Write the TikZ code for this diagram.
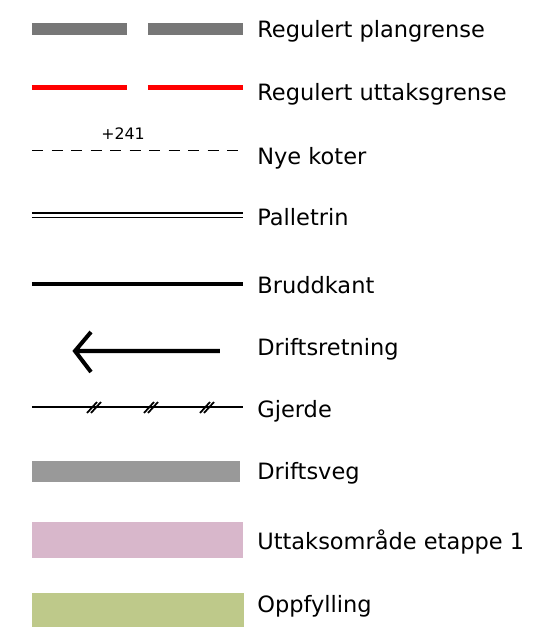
\documentclass[tikz,border=0pt]{standalone}
\usepackage{fontspec}
\setmainfont{DejaVu Sans}
\definecolor{plangra}{HTML}{777777}
\definecolor{veggra}{HTML}{999999}
\definecolor{uttakrosa}{HTML}{D8B7CB}
\definecolor{fyllgronn}{HTML}{BEC98A}
\tikzset{tekst/.style={anchor=west,inner sep=0pt,font=\fontsize{12.8}{15}\selectfont}}

\begin{document}
\begin{tikzpicture}[x=0.02cm,y=-0.02cm]
\useasboundingbox (0,0) rectangle (540,627);
% plangrense
\draw[plangra,line width=6.6pt] (32,29)--(127,29) (148,29)--(243,29);
\node[tekst] (plan) at (257,31) {Regulert plangrense};
% uttaksgrense
\draw[red,line width=2.8pt] (32,87.5)--(127,87.5) (148,87.5)--(243,87.5);
\node[tekst] (uttak) at (257,94) {Regulert uttaksgrense};
% koter
\draw[line width=0.6pt,dash pattern=on 6.5pt off 4.6pt] (32,150.5)--(243,150.5);
\node[font=\fontsize{9}{11}\selectfont,inner sep=0pt] (kote) at (123,134) {+241};
\node[tekst] (koter) at (257,158) {Nye koter};
% palletrin
\draw[line width=0.8pt] (32,213)--(243,213) (32,217.5)--(243,217.5);
\node[tekst] (pall) at (257,217) {Palletrin};
% bruddkant
\draw[line width=2.8pt] (32,284)--(243,284);
\node[tekst] (brudd) at (257,285) {Bruddkant};
% driftsretning
\draw[line width=2.3pt,line join=miter] (91,332)--(75,351)--(91,372) (75,351)--(220,351);
\node[tekst] (retning) at (257,349) {Driftsretning};
% gjerde
\draw[line width=0.85pt] (32,407)--(243,407);
\foreach \x in {94,151,207}
  \draw[line width=1pt] (\x-7,413)--(\x+3,402) (\x-3,413)--(\x+7,402);
\node[tekst] (gjerde) at (257,411) {Gjerde};
% flater
\fill[veggra] (32,461) rectangle (240,482);
\node[tekst] (veg) at (257,473) {Driftsveg};
\fill[uttakrosa] (32,522) rectangle (243,558);
\node[tekst] (etappe) at (257,542) {Uttaksområde etappe 1};
\fill[fyllgronn] (32,593) rectangle (244,627);
\node[tekst] (fylling) at (257,606) {Oppfylling};
\end{tikzpicture}
\end{document}
